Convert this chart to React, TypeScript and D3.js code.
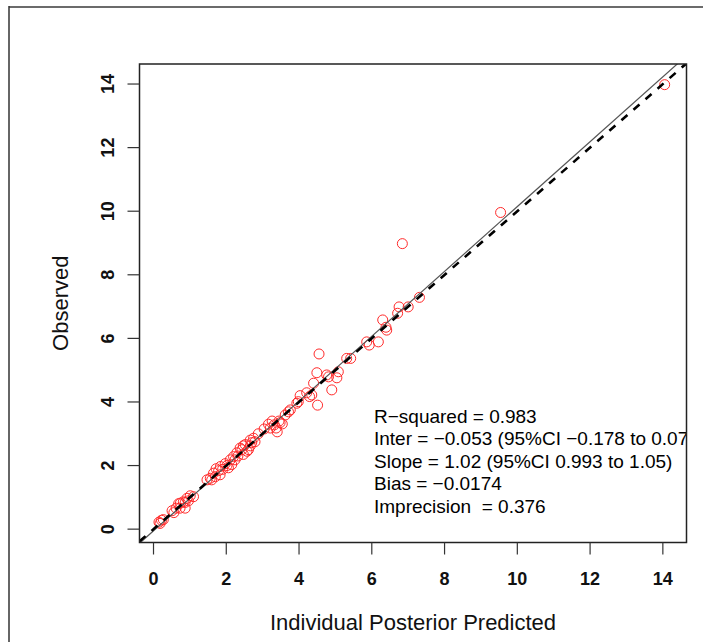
import React from "react";
import * as d3 from "d3";

// Individual posterior predicted vs observed concentrations
const predicted = [
  0.15, 0.22, 0.18, 0.27,
  0.51, 0.56, 0.62, 0.73, 0.74, 0.82, 0.87, 0.87, 0.92, 0.96, 1.01, 1.10, 0.69,
  1.47, 1.56, 1.60, 1.65, 1.70, 1.72, 1.79, 1.83, 1.84, 1.90, 1.97, 2.02, 2.06, 2.11, 2.15, 2.20, 2.24,
  2.29, 2.32, 2.38, 2.43, 2.47, 2.47, 2.52, 2.57, 2.61, 2.66, 2.66, 2.70, 2.75, 2.79, 2.88,
  3.04, 3.16, 3.21, 3.26, 3.32, 3.37, 3.40, 3.45, 3.54, 3.48, 3.62, 3.71, 3.76,
  3.94, 3.98, 4.03, 4.21, 4.29, 4.35, 4.40, 4.51, 4.49, 4.55, 4.76, 4.81, 4.90, 5.04, 5.08, 5.31, 5.42,
  5.86, 5.93, 6.18, 6.30, 6.39, 6.41, 6.71, 6.75, 7.00, 7.31, 6.84, 9.54, 14.05,
];
const observed = [
  0.22, 0.28, 0.18, 0.30,
  0.58, 0.52, 0.66, 0.66, 0.82, 0.86, 0.84, 0.66, 0.97, 0.89, 1.05, 1.02, 0.80,
  1.55, 1.60, 1.55, 1.76, 1.65, 1.90, 1.84, 1.71, 1.97, 1.88, 2.06, 2.00, 1.93, 2.18, 2.03, 2.28, 2.18,
  2.40, 2.30, 2.55, 2.50, 2.62, 2.35, 2.66, 2.45, 2.50, 2.80, 2.62, 2.72, 2.86, 2.75, 3.00,
  3.15, 3.30, 3.18, 3.40, 3.28, 3.18, 3.06, 3.40, 3.31, 3.35, 3.59, 3.69, 3.75,
  3.96, 4.01, 4.20, 4.29, 4.17, 4.22, 4.59, 3.90, 4.92, 5.51, 4.85, 4.79, 4.38, 4.76, 4.95, 5.37, 5.37,
  5.89, 5.79, 5.89, 6.58, 6.35, 6.26, 6.79, 6.99, 6.99, 7.29, 8.98, 9.96, 13.98,
];

const xTicks = [0, 2, 4, 6, 8, 10, 12, 14];
const yTicks = [0, 2, 4, 6, 8, 10, 12, 14];

// Fitted regression of observed on predicted
const intercept = -0.053;
const slope = 1.02;

const statLines = [
  "R\u2212squared = 0.983",
  "Inter = \u22120.053 (95%CI \u22120.178 to 0.072)",
  "Slope = 1.02 (95%CI 0.993 to 1.05)",
  "Bias = \u22120.0174",
  "Imprecision  = 0.376",
];

const W = 703;
const H = 642;
const plot = { left: 139.5, right: 686.5, top: 64, bottom: 542.5 };
const font = "'Liberation Sans', Arial, Helvetica, sans-serif";

export default function App() {
  const x = d3.scaleLinear().domain([-0.385, 14.65]).range([plot.left, plot.right]);
  const y = d3.scaleLinear().domain([-0.42, 14.63]).range([plot.bottom, plot.top]);

  const [x0, x1] = x.domain();
  const line = d3
    .line<[number, number]>()
    .x((d) => x(d[0]))
    .y((d) => y(d[1]));
  const identity = line([
    [x0, x0],
    [x1, x1],
  ]);
  const fit = line([
    [x0, intercept + slope * x0],
    [x1, intercept + slope * x1],
  ]);

  const pts = predicted.map((p, i) => [p, observed[i]] as [number, number]);

  return (
    <svg
      width={W}
      height={H}
      style={{ position: "absolute", left: 0, top: 0, background: "#fff" }}
      fontFamily={font}
    >
      <defs>
        <clipPath id="plotClip">
          <rect
            x={plot.left}
            y={plot.top}
            width={plot.right - plot.left}
            height={plot.bottom - plot.top}
          />
        </clipPath>
      </defs>

      {/* outer frame */}
      <line x1={9} x2={W} y1={7} y2={7} stroke="#6b6b6b" strokeWidth={2} />
      <line x1={9} x2={9} y1={6} y2={H} stroke="#333" strokeWidth={1.5} />

      <g clipPath="url(#plotClip)">
        {pts.map((d, i) => (
          <circle
            key={i}
            cx={x(d[0])}
            cy={y(d[1])}
            r={5}
            fill="none"
            stroke="#ff2a2a"
            strokeWidth={1}
          />
        ))}
        <path d={fit ?? ""} stroke="#555" strokeWidth={1.2} fill="none" />
        <path
          d={identity ?? ""}
          stroke="#000"
          strokeWidth={2.6}
          strokeDasharray="8 8"
          fill="none"
        />
        {statLines.map((t, i) => (
          <text
            key={i}
            x={374}
            y={423 + i * 22.4}
            fontSize={19}
            fill="#000"
            style={{ whiteSpace: "pre" }}
          >
            {t}
          </text>
        ))}
      </g>

      {/* plot box */}
      <rect
        x={plot.left}
        y={plot.top}
        width={plot.right - plot.left}
        height={plot.bottom - plot.top}
        fill="none"
        stroke="#222"
        strokeWidth={1.5}
      />

      {/* x axis */}
      {xTicks.map((t) => (
        <g key={t}>
          <line x1={x(t)} x2={x(t)} y1={plot.bottom} y2={plot.bottom + 12} stroke="#333" strokeWidth={1.2} />
          <text x={x(t)} y={585} textAnchor="middle" fontSize={18} fontWeight="bold" fill="#111">
            {t}
          </text>
        </g>
      ))}
      <text x={(plot.left + plot.right) / 2} y={630} textAnchor="middle" fontSize={22} fill="#111">
        Individual Posterior Predicted
      </text>

      {/* y axis */}
      {yTicks.map((t) => (
        <g key={t}>
          <line x1={plot.left - 12} x2={plot.left} y1={y(t)} y2={y(t)} stroke="#333" strokeWidth={1.2} />
          <text
            transform={`translate(113.5,${y(t)}) rotate(-90)`}
            textAnchor="middle"
            fontSize={18}
            fontWeight="bold"
            fill="#111"
          >
            {t}
          </text>
        </g>
      ))}
      <text
        transform={`translate(68,${(plot.top + plot.bottom) / 2}) rotate(-90)`}
        textAnchor="middle"
        fontSize={22}
        fill="#111"
      >
        Observed
      </text>
    </svg>
  );
}
